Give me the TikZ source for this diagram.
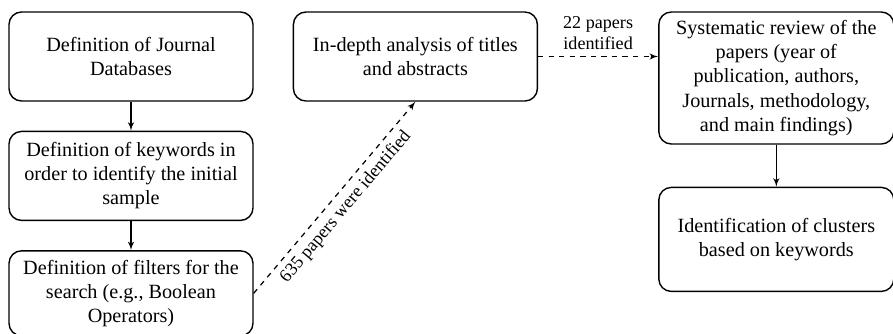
\documentclass[tikz,border=0pt]{standalone}
\usepackage{fontspec}
\setmainfont{Liberation Serif}
\usetikzlibrary{arrows, positioning}
\tikzset{
    block/.style = {rectangle, draw, text centered, align=center, rounded corners=0.25cm, line width=0.8pt, minimum height=1.78cm, minimum width=4.88cm, font=\rmfamily\fontsize{11.5}{13.7}\selectfont},
    tallblock/.style = {block, minimum width=4.7cm, minimum height=2.64cm},
    line/.style = {draw, -latex', line width=0.7pt},
    dashedline/.style = {draw, -latex', dashed, line width=0.7pt},
    note/.style = {font=\rmfamily\fontsize{10.3}{12}\selectfont, align=center}
}

\begin{document}
\begin{tikzpicture}
        \useasboundingbox (0,0) rectangle (17.86,-6.66);

        % Search Steps
        \node [block] (journals) at (2.62,-1.13) {Definition of Journal\\Databases};
        \node [block, below=0.58cm of journals] (keywords) {Definition of keywords in\\order to identify the initial\\sample};
        \node [block, below=0.58cm of keywords, minimum height=1.7cm] (filters) {Definition of filters for the\\search (e.g., Boolean\\Operators)};

        % Screening & Review
        \node [block, right=0.78cm of journals] (analysis) {In-depth analysis of titles\\and abstracts};
        \node [tallblock, right=2.4cm of analysis.north east, anchor=north west] (review) {Systematic review of the\\papers (year of\\publication, authors,\\Journals, methodology,\\and main findings)};
        \node [block, below=0.84cm of review, minimum width=4.7cm, minimum height=2.08cm] (clusters) {Identification of clusters\\based on keywords};

        % Edges Main
        \path [line] (journals) -- (keywords);
        \path [line] (keywords) -- (filters);
        \path [line] (review) -- (clusters);

        % Paper Counts
        \path [dashedline] (filters.east) -- node[note, sloped, below, midway] {635 papers were identified} (analysis.south);
        \path [dashedline] (analysis.east) -- node[note, above, midway] {22 papers\\identified} (analysis.east -| review.west);

    \end{tikzpicture}
\end{document}
